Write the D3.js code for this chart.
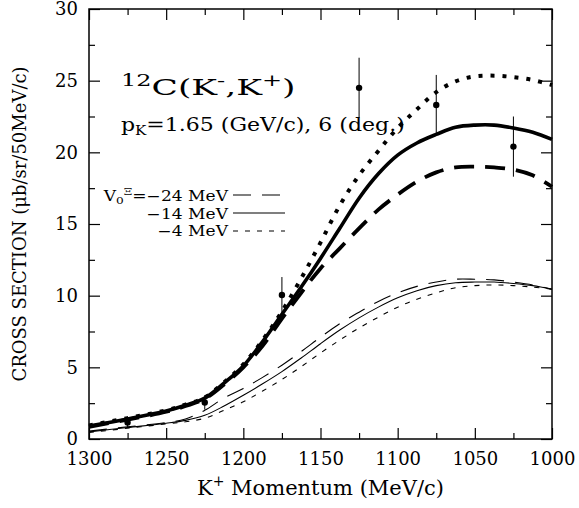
<!DOCTYPE html>
<html>
<head>
<meta charset="utf-8">
<script src="https://cdn.jsdelivr.net/npm/d3@7"></script>
<style>
body { margin: 0; background: #fff; }
text { font-family: "DejaVu Serif", serif; fill: #000; }
</style>
</head>
<body>
<div id="chart"></div>
<script>
// K+ momentum grid (MeV/c)
var momentum = [1300, 1275, 1250, 1237.5, 1225, 1212.5, 1200, 1187.5, 1175, 1162.5, 1150, 1137.5,
                1125, 1112.5, 1100, 1087.5, 1075, 1062.5, 1050, 1037.5, 1025, 1012.5, 1000];

// thick curves
var thickDashed = [0.85, 1.35, 1.9, 2.3, 2.8, 3.8, 5.0, 6.5, 8.4, 10.2, 11.9, 13.3,
                   14.7, 16.0, 17.05, 17.95, 18.6, 18.95, 19.0, 18.95, 18.8, 18.4, 17.6];
var thickSolid  = [0.9, 1.4, 1.95, 2.35, 2.85, 3.9, 5.1, 6.8, 8.7, 10.6, 12.6, 14.7,
                   16.8, 18.5, 19.8, 20.65, 21.25, 21.75, 21.9, 21.9, 21.7, 21.4, 20.9];
var thickDotted = [0.95, 1.45, 2.0, 2.4, 2.9, 3.95, 5.2, 6.9, 8.9, 11.2, 13.7, 16.3,
                   18.4, 20.1, 21.7, 23.0, 24.2, 24.95, 25.3, 25.35, 25.25, 25.05, 24.7];

// thin curves
var thinDashed = [0.55, 0.85, 1.15, 1.4, 2.0, 2.86, 3.53, 4.3, 5.15, 6.1, 7.1, 8.05,
                  8.85, 9.6, 10.2, 10.65, 10.95, 11.15, 11.15, 11.1, 10.95, 10.75, 10.45];
var thinSolid  = [0.5, 0.8, 1.1, 1.3, 1.65, 2.3, 3.05, 3.85, 4.7, 5.65, 6.65, 7.6,
                  8.45, 9.2, 9.85, 10.35, 10.7, 10.9, 10.95, 10.95, 10.85, 10.7, 10.45];
var thinDotted = [0.45, 0.75, 1.05, 1.2, 1.45, 2.0, 2.6, 3.35, 4.15, 5.05, 6.0, 6.9,
                  7.75, 8.5, 9.2, 9.75, 10.2, 10.55, 10.7, 10.75, 10.7, 10.6, 10.45];

// experimental points
var dataX   = [1275, 1225, 1175, 1125, 1075, 1025];
var dataY   = [1.15, 2.55, 10.05, 24.5, 23.3, 20.4];
var dataErr = [0.35, 0.5, 1.25, 2.1, 2.1, 2.1];

var xTicks = [1300, 1250, 1200, 1150, 1100, 1050, 1000];
var xMinor = [1275, 1225, 1175, 1125, 1075, 1025];
var yTicks = [0, 5, 10, 15, 20, 25, 30];
var yMinor = [2.5, 7.5, 12.5, 17.5, 22.5, 27.5];
var legendLabels = ["\u221224 MeV", "\u221214 MeV", "\u22124 MeV"];

var margin = {top: 9, right: 27, bottom: 69, left: 89},
  width = 579 - margin.left - margin.right,
  height = 508 - margin.top - margin.bottom;

var svg = d3.select("#chart")
  .append("svg")
    .attr("width", width + margin.left + margin.right)
    .attr("height", height + margin.top + margin.bottom)
  .append("g")
    .attr("transform", "translate(" + margin.left + "," + margin.top + ")");

var x = d3.scaleLinear().domain([1300, 1000]).range([0, width]);
var y = d3.scaleLinear().domain([0, 30]).range([height, 0]);

// axes with inward ticks
function styleAxis(g) {
  g.attr("font-family", "DejaVu Serif");
  g.select(".domain").remove();
  g.selectAll("line").attr("stroke", "#000").attr("stroke-width", 1.2);
  g.selectAll("text").style("font-size", "18px");
}

svg.append("g").attr("transform", "translate(0," + height + ")")
  .call(d3.axisBottom(x).tickValues(xTicks).tickSize(-11).tickPadding(13).tickFormat(d3.format("d")))
  .call(styleAxis);
svg.append("g").attr("transform", "translate(0," + height + ")")
  .call(d3.axisBottom(x).tickValues(xMinor).tickSize(-6).tickFormat(""))
  .call(styleAxis);
svg.append("g")
  .call(d3.axisTop(x).tickValues(xTicks).tickSize(-11).tickFormat(""))
  .call(styleAxis);
svg.append("g")
  .call(d3.axisTop(x).tickValues(xMinor).tickSize(-6).tickFormat(""))
  .call(styleAxis);
svg.append("g")
  .call(d3.axisLeft(y).tickValues(yTicks).tickSize(-11).tickPadding(11))
  .call(styleAxis);
svg.append("g")
  .call(d3.axisLeft(y).tickValues(yMinor).tickSize(-6).tickFormat(""))
  .call(styleAxis);
svg.append("g").attr("transform", "translate(" + width + ",0)")
  .call(d3.axisRight(y).tickValues(yTicks).tickSize(-11).tickFormat(""))
  .call(styleAxis);
svg.append("g").attr("transform", "translate(" + width + ",0)")
  .call(d3.axisRight(y).tickValues(yMinor).tickSize(-6).tickFormat(""))
  .call(styleAxis);

svg.append("rect")
  .attr("width", width).attr("height", height)
  .attr("fill", "none").attr("stroke", "#000").attr("stroke-width", 1.5);

// curves
var line = d3.line()
  .x(function(d) { return x(d[0]); })
  .y(function(d) { return y(d[1]); })
  .curve(d3.curveCatmullRom.alpha(0.5));

var curves = [
  {vals: thinDashed, w: 1.1, dash: "18,11"},
  {vals: thinSolid, w: 1.1, dash: null},
  {vals: thinDotted, w: 1.1, dash: "5,7"},
  {vals: thickDashed, w: 3.8, dash: "20,11"},
  {vals: thickSolid, w: 3.6, dash: null},
  {vals: thickDotted, w: 4, dash: "4,8"}
];

curves.forEach(function(c) {
  svg.append("path")
    .datum(momentum.map(function(m, i) { return [m, c.vals[i]]; }))
    .attr("d", line)
    .attr("fill", "none")
    .attr("stroke", "#000")
    .attr("stroke-width", c.w)
    .attr("stroke-dasharray", c.dash);
});

// data points with error bars
var pts = dataX.map(function(d, i) { return {x: d, y: dataY[i], e: dataErr[i]}; });
svg.selectAll("errbar")
  .data(pts)
  .enter()
  .append("line")
    .attr("x1", function(d) { return x(d.x); })
    .attr("x2", function(d) { return x(d.x); })
    .attr("y1", function(d) { return y(d.y - d.e); })
    .attr("y2", function(d) { return y(d.y + d.e); })
    .attr("stroke", "#000")
    .attr("stroke-width", 1);
svg.selectAll("dot")
  .data(pts)
  .enter()
  .append("circle")
    .attr("cx", function(d) { return x(d.x); })
    .attr("cy", function(d) { return y(d.y); })
    .attr("r", 3.2)
    .attr("fill", "#000");

// title block
var title = svg.append("g").attr("transform", "translate(" + (121 - margin.left) + "," + (95 - margin.top) + ") scale(1.5,1)")
  .append("text").style("font-size", "23px");
title.append("tspan").text("12").style("font-size", "16px").attr("dy", -9);
title.append("tspan").text("C(K").attr("dy", 9);
title.append("tspan").text("-").style("font-size", "16px").attr("dy", -9);
title.append("tspan").text(",K").attr("dy", 9);
title.append("tspan").text("+").style("font-size", "16px").attr("dy", -9);
title.append("tspan").text(")").attr("dy", 9);

var sub = svg.append("g").attr("transform", "translate(" + (121 - margin.left) + "," + (131 - margin.top) + ") scale(1.16,1)")
  .append("text").style("font-size", "19px");
sub.append("tspan").text("p");
sub.append("tspan").text("K").style("font-size", "13px").attr("dy", 4);
sub.append("tspan").text("=1.65 (GeV/c), 6 (deg.)").attr("dy", -4);

// legend
var legY = [201, 218.5, 236];
var legLineY = [195, 213, 231];
var legDash = ["18,11", null, "5,7"];
legendLabels.forEach(function(lab, i) {
  var t = svg.append("g").attr("transform", "translate(" + (228 - margin.left) + "," + (legY[i] - margin.top) + ") scale(1.22,1)")
    .append("text").style("font-size", "14px").attr("text-anchor", "end");
  if (i === 0) {
    t.append("tspan").text("V");
    t.append("tspan").text("0").style("font-size", "10px").attr("dy", 3);
    t.append("tspan").text("\u039E").style("font-size", "10px").attr("dy", -9);
    t.append("tspan").text("=" + lab).attr("dy", 6);
  } else {
    t.text(lab);
  }
  svg.append("line")
    .attr("x1", 233 - margin.left).attr("x2", 285 - margin.left)
    .attr("y1", legLineY[i] - margin.top).attr("y2", legLineY[i] - margin.top)
    .attr("stroke", "#000").attr("stroke-width", 1.1)
    .attr("stroke-dasharray", legDash[i]);
});

// axis titles
var xt = svg.append("text")
  .attr("x", width / 2).attr("y", 495 - margin.top)
  .attr("text-anchor", "middle").style("font-size", "21px");
xt.append("tspan").text("K");
xt.append("tspan").text("+").style("font-size", "14px").attr("dy", -9);
xt.append("tspan").text(" Momentum (MeV/c)").attr("dy", 9);

svg.append("text")
  .attr("transform", "translate(" + (26 - margin.left) + "," + (224 - margin.top) + ") rotate(-90)")
  .attr("text-anchor", "middle").style("font-size", "18px")
  .text("CROSS SECTION (\u03BCb/sr/50MeV/c)");
</script>
</body>
</html>
